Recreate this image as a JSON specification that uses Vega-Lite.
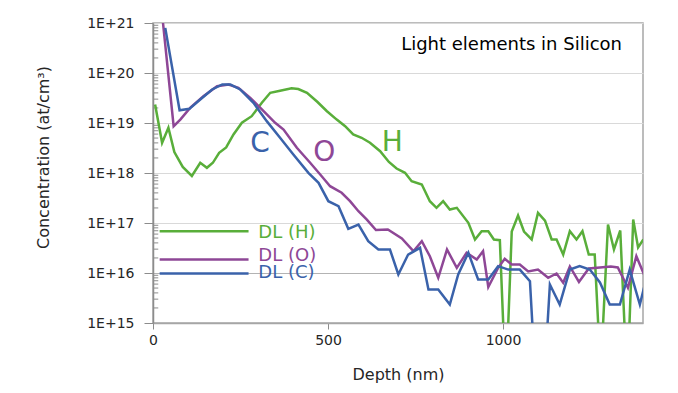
{
  "$schema": "https://vega.github.io/schema/vega-lite/v6.json",
  "width": 490,
  "height": 300,
  "autosize": {"type": "none"},
  "padding": {"left": 153, "top": 23, "right": 35, "bottom": 70},
  "background": "white",
  "config": {"font": "DejaVu Sans", "view": {"stroke": "#a6a6a6", "strokeWidth": 1.5}},
  "datasets": {
    "profiles": [
      {"element": "H", "depth": 6, "conc": 2.34e19},
      {"element": "H", "depth": 26, "conc": 4.02e18},
      {"element": "H", "depth": 44, "conc": 8.02e18},
      {"element": "H", "depth": 61, "conc": 2.63e18},
      {"element": "H", "depth": 85, "conc": 1.32e18},
      {"element": "H", "depth": 111, "conc": 8.71e17},
      {"element": "H", "depth": 135, "conc": 1.6e18},
      {"element": "H", "depth": 154, "conc": 1.27e18},
      {"element": "H", "depth": 171, "conc": 1.6e18},
      {"element": "H", "depth": 189, "conc": 2.54e18},
      {"element": "H", "depth": 209, "conc": 3.24e18},
      {"element": "H", "depth": 230, "conc": 5.89e18},
      {"element": "H", "depth": 254, "conc": 1.01e19},
      {"element": "H", "depth": 282, "conc": 1.37e19},
      {"element": "H", "depth": 311, "conc": 2.54e19},
      {"element": "H", "depth": 335, "conc": 4.02e19},
      {"element": "H", "depth": 363, "conc": 4.41e19},
      {"element": "H", "depth": 396, "conc": 4.97e19},
      {"element": "H", "depth": 415, "conc": 4.79e19},
      {"element": "H", "depth": 440, "conc": 4.02e19},
      {"element": "H", "depth": 470, "conc": 2.63e19},
      {"element": "H", "depth": 497, "conc": 1.72e19},
      {"element": "H", "depth": 525, "conc": 1.17e19},
      {"element": "H", "depth": 549, "conc": 8.63e18},
      {"element": "H", "depth": 572, "conc": 5.89e18},
      {"element": "H", "depth": 596, "conc": 5.06e18},
      {"element": "H", "depth": 620, "conc": 4.02e18},
      {"element": "H", "depth": 649, "conc": 2.73e18},
      {"element": "H", "depth": 674, "conc": 1.66e18},
      {"element": "H", "depth": 696, "conc": 1.23e18},
      {"element": "H", "depth": 720, "conc": 1.01e18},
      {"element": "H", "depth": 739, "conc": 6.85e17},
      {"element": "H", "depth": 768, "conc": 5.89e17},
      {"element": "H", "depth": 791, "conc": 2.73e17},
      {"element": "H", "depth": 810, "conc": 2.01e17},
      {"element": "H", "depth": 829, "conc": 2.73e17},
      {"element": "H", "depth": 848, "conc": 1.86e17},
      {"element": "H", "depth": 868, "conc": 2.01e17},
      {"element": "H", "depth": 901, "conc": 1.01e17},
      {"element": "H", "depth": 920, "conc": 4.68e16},
      {"element": "H", "depth": 939, "conc": 6.85e16},
      {"element": "H", "depth": 958, "conc": 6.85e16},
      {"element": "H", "depth": 974, "conc": 4.68e16},
      {"element": "H", "depth": 991, "conc": 4.53e16},
      {"element": "H", "depth": 1008, "conc": 5e13},
      {"element": "H", "depth": 1025, "conc": 6.76e16},
      {"element": "H", "depth": 1043, "conc": 1.41e17},
      {"element": "H", "depth": 1060, "conc": 6.76e16},
      {"element": "H", "depth": 1082, "conc": 4.68e16},
      {"element": "H", "depth": 1100, "conc": 1.6e17},
      {"element": "H", "depth": 1120, "conc": 1.12e17},
      {"element": "H", "depth": 1139, "conc": 4.68e16},
      {"element": "H", "depth": 1153, "conc": 4.68e16},
      {"element": "H", "depth": 1172, "conc": 2.34e16},
      {"element": "H", "depth": 1191, "conc": 6.85e16},
      {"element": "H", "depth": 1210, "conc": 4.68e16},
      {"element": "H", "depth": 1227, "conc": 6.85e16},
      {"element": "H", "depth": 1245, "conc": 2.34e16},
      {"element": "H", "depth": 1262, "conc": 2.34e16},
      {"element": "H", "depth": 1279, "conc": 1e14},
      {"element": "H", "depth": 1300, "conc": 9.33e16},
      {"element": "H", "depth": 1317, "conc": 2.95e16},
      {"element": "H", "depth": 1335, "conc": 7.08e16},
      {"element": "H", "depth": 1355, "conc": 5.4e13},
      {"element": "H", "depth": 1372, "conc": 1.17e17},
      {"element": "H", "depth": 1386, "conc": 3.24e16},
      {"element": "H", "depth": 1401, "conc": 4.68e16},
      {"element": "O", "depth": 28, "conc": 1.1e21},
      {"element": "O", "depth": 59, "conc": 8.63e18},
      {"element": "O", "depth": 78, "conc": 1.17e19},
      {"element": "O", "depth": 106, "conc": 2.01e19},
      {"element": "O", "depth": 144, "conc": 3.44e19},
      {"element": "O", "depth": 183, "conc": 5.45e19},
      {"element": "O", "depth": 216, "conc": 5.89e19},
      {"element": "O", "depth": 244, "conc": 5.06e19},
      {"element": "O", "depth": 278, "conc": 3.19e19},
      {"element": "O", "depth": 316, "conc": 1.72e19},
      {"element": "O", "depth": 349, "conc": 1.01e19},
      {"element": "O", "depth": 373, "conc": 7.41e18},
      {"element": "O", "depth": 411, "conc": 3.19e18},
      {"element": "O", "depth": 449, "conc": 1.6e18},
      {"element": "O", "depth": 482, "conc": 8.63e17},
      {"element": "O", "depth": 506, "conc": 5.45e17},
      {"element": "O", "depth": 539, "conc": 4.02e17},
      {"element": "O", "depth": 563, "conc": 2.73e17},
      {"element": "O", "depth": 587, "conc": 1.72e17},
      {"element": "O", "depth": 611, "conc": 1.17e17},
      {"element": "O", "depth": 637, "conc": 7.24e16},
      {"element": "O", "depth": 671, "conc": 7.41e16},
      {"element": "O", "depth": 711, "conc": 4.9e16},
      {"element": "O", "depth": 744, "conc": 2.73e16},
      {"element": "O", "depth": 768, "conc": 4.33e16},
      {"element": "O", "depth": 791, "conc": 2.17e16},
      {"element": "O", "depth": 815, "conc": 8.02e15},
      {"element": "O", "depth": 840, "conc": 2.95e16},
      {"element": "O", "depth": 868, "conc": 1.27e16},
      {"element": "O", "depth": 896, "conc": 2.54e16},
      {"element": "O", "depth": 925, "conc": 1.86e16},
      {"element": "O", "depth": 943, "conc": 2.73e16},
      {"element": "O", "depth": 958, "conc": 5.25e15},
      {"element": "O", "depth": 986, "conc": 1.27e16},
      {"element": "O", "depth": 1005, "conc": 1.92e16},
      {"element": "O", "depth": 1025, "conc": 1.48e16},
      {"element": "O", "depth": 1048, "conc": 1.48e16},
      {"element": "O", "depth": 1072, "conc": 1.07e16},
      {"element": "O", "depth": 1100, "conc": 1.17e16},
      {"element": "O", "depth": 1129, "conc": 8.02e15},
      {"element": "O", "depth": 1153, "conc": 9.77e15},
      {"element": "O", "depth": 1172, "conc": 6.37e15},
      {"element": "O", "depth": 1191, "conc": 1.35e16},
      {"element": "O", "depth": 1217, "conc": 6.61e15},
      {"element": "O", "depth": 1245, "conc": 1.23e16},
      {"element": "O", "depth": 1277, "conc": 1.29e16},
      {"element": "O", "depth": 1308, "conc": 1.35e16},
      {"element": "O", "depth": 1328, "conc": 1.29e16},
      {"element": "O", "depth": 1357, "conc": 5.06e15},
      {"element": "O", "depth": 1381, "conc": 2.17e16},
      {"element": "O", "depth": 1403, "conc": 9.33e15},
      {"element": "C", "depth": 35, "conc": 8.0e20},
      {"element": "C", "depth": 76, "conc": 1.8e19},
      {"element": "C", "depth": 104, "conc": 1.92e19},
      {"element": "C", "depth": 135, "conc": 2.95e19},
      {"element": "C", "depth": 169, "conc": 4.68e19},
      {"element": "C", "depth": 198, "conc": 5.89e19},
      {"element": "C", "depth": 221, "conc": 5.89e19},
      {"element": "C", "depth": 249, "conc": 4.68e19},
      {"element": "C", "depth": 287, "conc": 2.54e19},
      {"element": "C", "depth": 325, "conc": 1.09e19},
      {"element": "C", "depth": 363, "conc": 5.06e18},
      {"element": "C", "depth": 401, "conc": 2.34e18},
      {"element": "C", "depth": 444, "conc": 1.01e18},
      {"element": "C", "depth": 473, "conc": 6.37e17},
      {"element": "C", "depth": 501, "conc": 2.73e17},
      {"element": "C", "depth": 530, "conc": 2.17e17},
      {"element": "C", "depth": 558, "conc": 7.66e16},
      {"element": "C", "depth": 587, "conc": 9.33e16},
      {"element": "C", "depth": 615, "conc": 4.33e16},
      {"element": "C", "depth": 644, "conc": 2.95e16},
      {"element": "C", "depth": 677, "conc": 2.95e16},
      {"element": "C", "depth": 701, "conc": 9.33e15},
      {"element": "C", "depth": 729, "conc": 2.34e16},
      {"element": "C", "depth": 763, "conc": 3.19e16},
      {"element": "C", "depth": 787, "conc": 4.68e15},
      {"element": "C", "depth": 815, "conc": 4.68e15},
      {"element": "C", "depth": 848, "conc": 2.34e15},
      {"element": "C", "depth": 872, "conc": 9.33e15},
      {"element": "C", "depth": 901, "conc": 2.54e16},
      {"element": "C", "depth": 929, "conc": 7.41e15},
      {"element": "C", "depth": 958, "conc": 7.41e15},
      {"element": "C", "depth": 986, "conc": 1.37e16},
      {"element": "C", "depth": 1015, "conc": 1.17e16},
      {"element": "C", "depth": 1048, "conc": 1.17e16},
      {"element": "C", "depth": 1077, "conc": 6.85e15},
      {"element": "C", "depth": 1105, "conc": 2.3e12},
      {"element": "C", "depth": 1134, "conc": 5.89e15},
      {"element": "C", "depth": 1162, "conc": 2.34e15},
      {"element": "C", "depth": 1191, "conc": 1.17e16},
      {"element": "C", "depth": 1219, "conc": 1.37e16},
      {"element": "C", "depth": 1248, "conc": 1.17e16},
      {"element": "C", "depth": 1277, "conc": 6.46e15},
      {"element": "C", "depth": 1305, "conc": 2.34e15},
      {"element": "C", "depth": 1334, "conc": 2.34e15},
      {"element": "C", "depth": 1362, "conc": 1.17e16},
      {"element": "C", "depth": 1391, "conc": 2.34e15},
      {"element": "C", "depth": 1403, "conc": 5.13e15}
    ],
    "dl": [
      {"element": "H", "depth": 19, "conc": 6.85e16},
      {"element": "H", "depth": 273, "conc": 6.85e16},
      {"element": "O", "depth": 19, "conc": 1.86e16},
      {"element": "O", "depth": 273, "conc": 1.86e16},
      {"element": "C", "depth": 19, "conc": 9.8e15},
      {"element": "C", "depth": 273, "conc": 9.8e15}
    ],
    "dllabels": [
      {"element": "H", "depth": 301, "conc": 6.17e16, "label": "DL (H)"},
      {"element": "O", "depth": 301, "conc": 2.14e16, "label": "DL (O)"},
      {"element": "C", "depth": 301, "conc": 9.9e15, "label": "DL (C)"}
    ],
    "letters": [
      {"element": "C", "depth": 306, "conc": 3.89e18, "label": "C"},
      {"element": "O", "depth": 489, "conc": 2.57e18, "label": "O"},
      {"element": "H", "depth": 684, "conc": 4.07e18, "label": "H"}
    ],
    "note": [
      {"depth": 1340, "conc": 3.55e20, "label": "Light elements in Silicon"}
    ],
    "minor": [
      {"depth": 0, "depth2": 15, "conc": 2e15}, {"depth": 0, "depth2": 15, "conc": 3e15}, {"depth": 0, "depth2": 15, "conc": 4e15}, {"depth": 0, "depth2": 15, "conc": 5e15}, {"depth": 0, "depth2": 15, "conc": 6e15}, {"depth": 0, "depth2": 15, "conc": 7e15}, {"depth": 0, "depth2": 15, "conc": 8e15}, {"depth": 0, "depth2": 15, "conc": 9e15},
      {"depth": 0, "depth2": 15, "conc": 2e16}, {"depth": 0, "depth2": 15, "conc": 3e16}, {"depth": 0, "depth2": 15, "conc": 4e16}, {"depth": 0, "depth2": 15, "conc": 5e16}, {"depth": 0, "depth2": 15, "conc": 6e16}, {"depth": 0, "depth2": 15, "conc": 7e16}, {"depth": 0, "depth2": 15, "conc": 8e16}, {"depth": 0, "depth2": 15, "conc": 9e16},
      {"depth": 0, "depth2": 15, "conc": 2e17}, {"depth": 0, "depth2": 15, "conc": 3e17}, {"depth": 0, "depth2": 15, "conc": 4e17}, {"depth": 0, "depth2": 15, "conc": 5e17}, {"depth": 0, "depth2": 15, "conc": 6e17}, {"depth": 0, "depth2": 15, "conc": 7e17}, {"depth": 0, "depth2": 15, "conc": 8e17}, {"depth": 0, "depth2": 15, "conc": 9e17},
      {"depth": 0, "depth2": 15, "conc": 2e18}, {"depth": 0, "depth2": 15, "conc": 3e18}, {"depth": 0, "depth2": 15, "conc": 4e18}, {"depth": 0, "depth2": 15, "conc": 5e18}, {"depth": 0, "depth2": 15, "conc": 6e18}, {"depth": 0, "depth2": 15, "conc": 7e18}, {"depth": 0, "depth2": 15, "conc": 8e18}, {"depth": 0, "depth2": 15, "conc": 9e18},
      {"depth": 0, "depth2": 15, "conc": 2e19}, {"depth": 0, "depth2": 15, "conc": 3e19}, {"depth": 0, "depth2": 15, "conc": 4e19}, {"depth": 0, "depth2": 15, "conc": 5e19}, {"depth": 0, "depth2": 15, "conc": 6e19}, {"depth": 0, "depth2": 15, "conc": 7e19}, {"depth": 0, "depth2": 15, "conc": 8e19}, {"depth": 0, "depth2": 15, "conc": 9e19},
      {"depth": 0, "depth2": 15, "conc": 2e20}, {"depth": 0, "depth2": 15, "conc": 3e20}, {"depth": 0, "depth2": 15, "conc": 4e20}, {"depth": 0, "depth2": 15, "conc": 5e20}, {"depth": 0, "depth2": 15, "conc": 6e20}, {"depth": 0, "depth2": 15, "conc": 7e20}, {"depth": 0, "depth2": 15, "conc": 8e20}, {"depth": 0, "depth2": 15, "conc": 9e20}
    ]
  },
  "encoding": {
    "x": {
      "field": "depth", "type": "quantitative",
      "scale": {"domain": [0, 1400], "nice": false, "zero": false},
      "axis": {
        "title": "Depth (nm)", "values": [0, 500, 1000], "format": "d", "grid": false,
        "tickSize": 6, "tickColor": "#8c8c8c", "domainColor": "#a6a6a6", "domainWidth": 1.5,
        "labelFontSize": 14, "labelColor": "#262626", "labelPadding": 4, "labelFlush": false,
        "titleFontSize": 16, "titleFontWeight": "normal", "titleColor": "#262626", "titlePadding": 19
      }
    },
    "y": {
      "field": "conc", "type": "quantitative",
      "scale": {"type": "log", "domain": [1e15, 1e21], "nice": false},
      "axis": {
        "title": "Concentration (at/cm³)",
        "values": [1e15, 1e16, 1e17, 1e18, 1e19, 1e20, 1e21],
        "labelExpr": "'1E+' + round(log(datum.value)/LN10)",
        "tickSize": 9,
        "grid": true,
        "gridColor": {"condition": {"test": "abs(datum.value/1e16 - 1) < 0.001", "value": "#b3b3b3"}, "value": "#d9d9d9"},
        "labelOverlap": false, "labelFlush": false,
        "labelFontSize": 14, "labelPadding": 10, "labelColor": "#262626",
        "tickColor": "#8c8c8c", "domainColor": "#8c8c8c", "domainWidth": 1.5,
        "titleFontSize": 16, "titleFontWeight": "normal", "titleColor": "#262626", "titlePadding": 35,
        "titleY": 134
      }
    }
  },
  "layer": [
    {
      "data": {"name": "minor"},
      "mark": {"type": "rule", "color": "#8c8c8c", "strokeWidth": 1},
      "encoding": {
        "x2": {"field": "depth2"}
      }
    },
    {
      "data": {"name": "profiles"},
      "mark": {"type": "line", "strokeWidth": 2.5, "clip": true},
      "encoding": {
        "color": {"field": "element", "type": "nominal",
                  "scale": {"domain": ["H", "O", "C"], "range": ["#59AE3A", "#8E4796", "#3A62AA"]},
                  "legend": null}
      }
    },
    {
      "data": {"name": "dl"},
      "mark": {"type": "line", "strokeWidth": 2.5, "clip": true},
      "encoding": {
        "color": {"field": "element", "type": "nominal", "legend": null}
      }
    },
    {
      "data": {"name": "letters"},
      "mark": {"type": "text", "fontSize": 28, "font": "DejaVu Sans", "align": "center", "baseline": "middle"},
      "encoding": {
        "text": {"field": "label"},
        "color": {"field": "element", "type": "nominal", "legend": null}
      }
    },
    {
      "data": {"name": "dllabels"},
      "mark": {"type": "text", "fontSize": 18, "font": "DejaVu Sans", "align": "left", "baseline": "middle"},
      "encoding": {
        "text": {"field": "label"},
        "color": {"field": "element", "type": "nominal", "legend": null}
      }
    },
    {
      "data": {"name": "note"},
      "mark": {"type": "text", "fontSize": 18, "font": "DejaVu Sans", "align": "right", "baseline": "middle", "color": "#000000"},
      "encoding": {
        "text": {"field": "label"}
      }
    }
  ]
}
